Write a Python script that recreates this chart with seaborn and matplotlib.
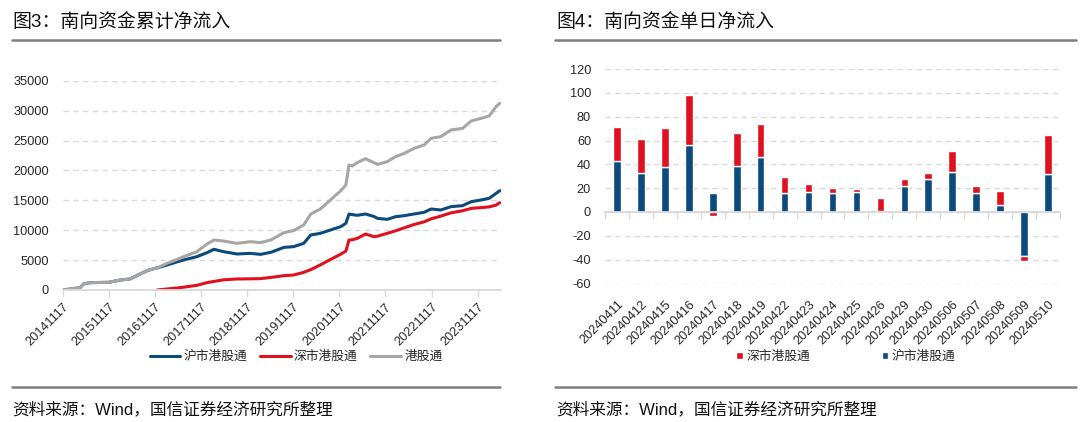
import numpy as np
import pandas as pd
import matplotlib
matplotlib.use("Agg")
import matplotlib.pyplot as plt
import matplotlib.dates as mdates
from matplotlib.lines import Line2D
import seaborn as sns

# ---------------- data: cumulative southbound net inflow (亿元) ----------------
cum_dates = [
    "2014-11-17", "2015-04-05", "2015-04-30", "2015-06-20", "2015-11-14",
    "2016-02-17", "2016-05-03", "2016-07-08", "2016-09-15", "2016-11-17",
    "2016-12-05", "2017-02-20", "2017-05-10", "2017-07-01", "2017-10-15",
    "2018-01-03", "2018-02-27", "2018-05-14", "2018-08-28", "2018-12-12",
    "2019-03-03", "2019-05-23", "2019-09-05", "2019-11-20", "2020-02-08",
    "2020-04-04", "2020-06-19", "2020-09-07", "2020-11-28", "2021-01-07",
    "2021-02-01", "2021-02-27", "2021-04-08", "2021-06-12", "2021-08-17",
    "2021-09-15", "2021-12-01", "2022-02-05", "2022-04-15", "2022-07-01",
    "2022-09-19", "2022-11-13", "2023-01-29", "2023-04-20", "2023-07-20",
    "2023-09-27", "2023-12-13", "2024-02-16", "2024-04-11", "2024-05-10",
]
cum_sh = [
    0, 390, 1000, 1230, 1280,
    1670, 1840, 2510, 3230, 3620,
    3700, 4180, 4700, 5020, 5570,
    6240, 6800, 6410, 6020, 6130,
    5960, 6300, 7130, 7250, 7800,
    9200, 9480, 10030, 10600, 11150,
    12710, 12600, 12490, 12710, 12300,
    11980, 11820, 12260, 12430, 12710,
    12990, 13540, 13380, 13940, 14100,
    14770, 15050, 15330, 16160, 16610,
]
cum_sz = [
    np.nan, np.nan, np.nan, np.nan, np.nan,
    np.nan, np.nan, np.nan, np.nan, np.nan,
    0, 170, 330, 470, 780,
    1230, 1430, 1700, 1840, 1870,
    1900, 2100, 2400, 2510, 2950,
    3400, 4200, 5100, 6000, 6500,
    8360, 8400, 8640, 9360, 8920,
    9000, 9480, 9900, 10400, 10950,
    11400, 11900, 12350, 12900, 13250,
    13650, 13780, 13900, 14200, 14600,
]
cum_total = [
    0, 390, 1000, 1230, 1280,
    1670, 1840, 2510, 3230, 3620,
    3700, 4460, 5100, 5570, 6410,
    7690, 8360, 8190, 7800, 8080,
    7920, 8360, 9590, 9920, 10870,
    12710, 13540, 15050, 16610, 17560,
    20900, 20740, 21300, 21960, 21300,
    21010, 21460, 22300, 22850, 23690,
    24250, 25360, 25640, 26760, 27030,
    28260, 28700, 29100, 30660, 31210,
]
cum_names = ["沪市港股通", "深市港股通", "港股通"]

# ---------------- data: daily southbound net inflow (亿元) ----------------
day_labels = [
    "20240411", "20240412", "20240415", "20240416", "20240417", "20240418",
    "20240419", "20240422", "20240423", "20240424", "20240425", "20240426",
    "20240429", "20240430", "20240506", "20240507", "20240508", "20240509",
    "20240510",
]
day_sh = [43.0, 32.5, 37.8, 56.0, 15.8, 38.9, 46.1, 15.6, 16.4, 16.1,
          17.2, 0.5, 22.2, 27.8, 33.9, 15.8, 5.8, -37.0, 32.2]
day_sz = [28.5, 29.0, 32.5, 42.6, -3.6, 27.5, 28.1, 13.6, 6.9, 4.2,
          1.7, 11.5, 5.3, 4.7, 16.9, 5.9, 12.2, -4.4, 32.8]

# ---------------- style ----------------
sns.set_theme(style="white")
plt.rcParams["font.family"] = ["Liberation Sans", "Noto Sans CJK SC"]
plt.rcParams["axes.unicode_minus"] = False

BLUE = "#0b4a7c"
RED = "#e0101e"
GRAY = "#a6a6a6"
GRID = "#d9d9d9"
TXT = "#262626"
RULE = "#7f7f7f"

W, H = 1080, 422
fig = plt.figure(figsize=(W / 100, H / 100), dpi=100)
fig.patch.set_facecolor("white")

# ================= left: cumulative =================
ax1 = fig.add_axes([62.7 / W, 1 - 290 / H, (501 - 62.7) / W, (290 - 80.7) / H])
df = pd.DataFrame({"date": pd.to_datetime(cum_dates),
                   cum_names[0]: cum_sh, cum_names[1]: cum_sz, cum_names[2]: cum_total})
long = df.melt("date", var_name="series", value_name="value").dropna()
sns.lineplot(data=long, x="date", y="value", hue="series", hue_order=cum_names,
             palette={cum_names[0]: BLUE, cum_names[1]: RED, cum_names[2]: GRAY},
             lw=2.2, ax=ax1, legend=False)
ax1.set_xlim(pd.Timestamp("2014-11-17"), pd.Timestamp("2024-05-20"))
ax1.set_ylim(0, 35000)
ax1.set_yticks(range(0, 35001, 5000))
ax1.xaxis.set_major_locator(mdates.YearLocator(base=1, month=11, day=17))
ax1.xaxis.set_major_formatter(mdates.DateFormatter("%Y%m%d"))
ax1.set_xlabel("")
ax1.set_ylabel("")
ax1.yaxis.grid(True, color=GRID, ls=(0, (4, 3)), lw=1)
ax1.set_axisbelow(True)
for s in ["top", "right", "left"]:
    ax1.spines[s].set_visible(False)
ax1.spines["bottom"].set_color(GRID)
ax1.spines["bottom"].set_linewidth(1.3)
ax1.tick_params(axis="x", bottom=True, length=5, width=1, color=GRID, pad=3,
                labelsize=9.2, labelcolor=TXT)
ax1.tick_params(axis="y", left=False, length=0, pad=10, labelsize=9.2, labelcolor=TXT)
for lab in ax1.get_xticklabels():
    lab.set_rotation(45)
    lab.set_ha("right")
    lab.set_rotation_mode("anchor")
handles1 = ax1.get_lines()[:3]
ax1.legend(handles1, cum_names, loc="center", bbox_to_anchor=(296 / W, 1 - 357 / H),
           bbox_transform=fig.transFigure, ncol=3, frameon=False, fontsize=9.2,
           handlelength=2.4, handletextpad=0.25, columnspacing=1.0, labelcolor=TXT)

# ================= right: daily stacked bars =================
ax2 = fig.add_axes([605 / W, 1 - 283.5 / H, (1060 - 605) / W, (283.5 - 69) / H])
n = len(day_labels)
x = np.arange(n)
sns.barplot(x=day_labels, y=day_sh, color=BLUE, width=0.32, saturation=1,
            errorbar=None, ax=ax2, label="沪市港股通")
sh_arr = np.array(day_sh)
sz_arr = np.array(day_sz)
bottom = np.where(np.sign(sz_arr) == np.sign(sh_arr), sh_arr, 0.0)
ax2.bar(x, sz_arr, bottom=bottom, width=0.32, color=RED, label="深市港股通")
ax2.set_xlim(-0.5, n - 0.5)
ax2.set_ylim(-60, 120)
ax2.set_yticks(range(-60, 121, 20))
ax2.set_xlabel("")
ax2.set_ylabel("")
ax2.yaxis.grid(True, color=GRID, ls=(0, (4, 3)), lw=1)
ax2.set_axisbelow(True)
for s in ["top", "right", "left"]:
    ax2.spines[s].set_visible(False)
ax2.spines["bottom"].set_position(("data", 0))
ax2.spines["bottom"].set_color(GRID)
ax2.spines["bottom"].set_linewidth(1.3)
ax2.set_xticks(x)
ax2.set_xticklabels(day_labels)
ax2.set_xticks(np.arange(-0.5, n, 1.0), minor=True)
ax2.tick_params(axis="x", which="major", bottom=True, length=0, pad=62,
                labelsize=9.2, labelcolor=TXT)
ax2.tick_params(axis="x", which="minor", bottom=True, length=5, width=1, color=GRID)
ax2.tick_params(axis="y", left=False, length=0, pad=10, labelsize=9.2, labelcolor=TXT)
for lab in ax2.get_xticklabels():
    lab.set_rotation(45)
    lab.set_ha("right")
    lab.set_rotation_mode("anchor")
h_sh = ax2.containers[0]
h_sz = ax2.containers[1]
ax2.legend([h_sz, h_sh], ["深市港股通", "沪市港股通"], loc="center",
           bbox_to_anchor=(846 / W, 1 - 357 / H), bbox_transform=fig.transFigure,
           ncol=2, frameon=False, fontsize=9.2, handlelength=0.5, handleheight=0.5,
           handletextpad=0.3, columnspacing=5.6, labelcolor=TXT)

# ================= titles, rules, sources =================
fig.text(12 / W, 1 - 22 / H, "图3：南向资金累计净流入", fontsize=13.6, va="center",
         ha="left", color="#111111")
fig.text(556 / W, 1 - 22 / H, "图4：南向资金单日净流入", fontsize=13.6, va="center",
         ha="left", color="#111111")
for x0, x1 in [(12, 500), (555, 1076)]:
    fig.add_artist(Line2D([x0 / W, x1 / W], [1 - 40 / H] * 2, color=RULE, lw=1.8))
    fig.add_artist(Line2D([x0 / W, x1 / W], [1 - 387 / H] * 2, color=RULE, lw=1.8))
fig.text(12 / W, 1 - 409 / H, "资料来源：Wind，国信证券经济研究所整理", fontsize=12,
         va="center", ha="left", color="#111111")
fig.text(556 / W, 1 - 409 / H, "资料来源：Wind，国信证券经济研究所整理", fontsize=12,
         va="center", ha="left", color="#111111")

fig.savefig("out.png", dpi=100, facecolor="white")
